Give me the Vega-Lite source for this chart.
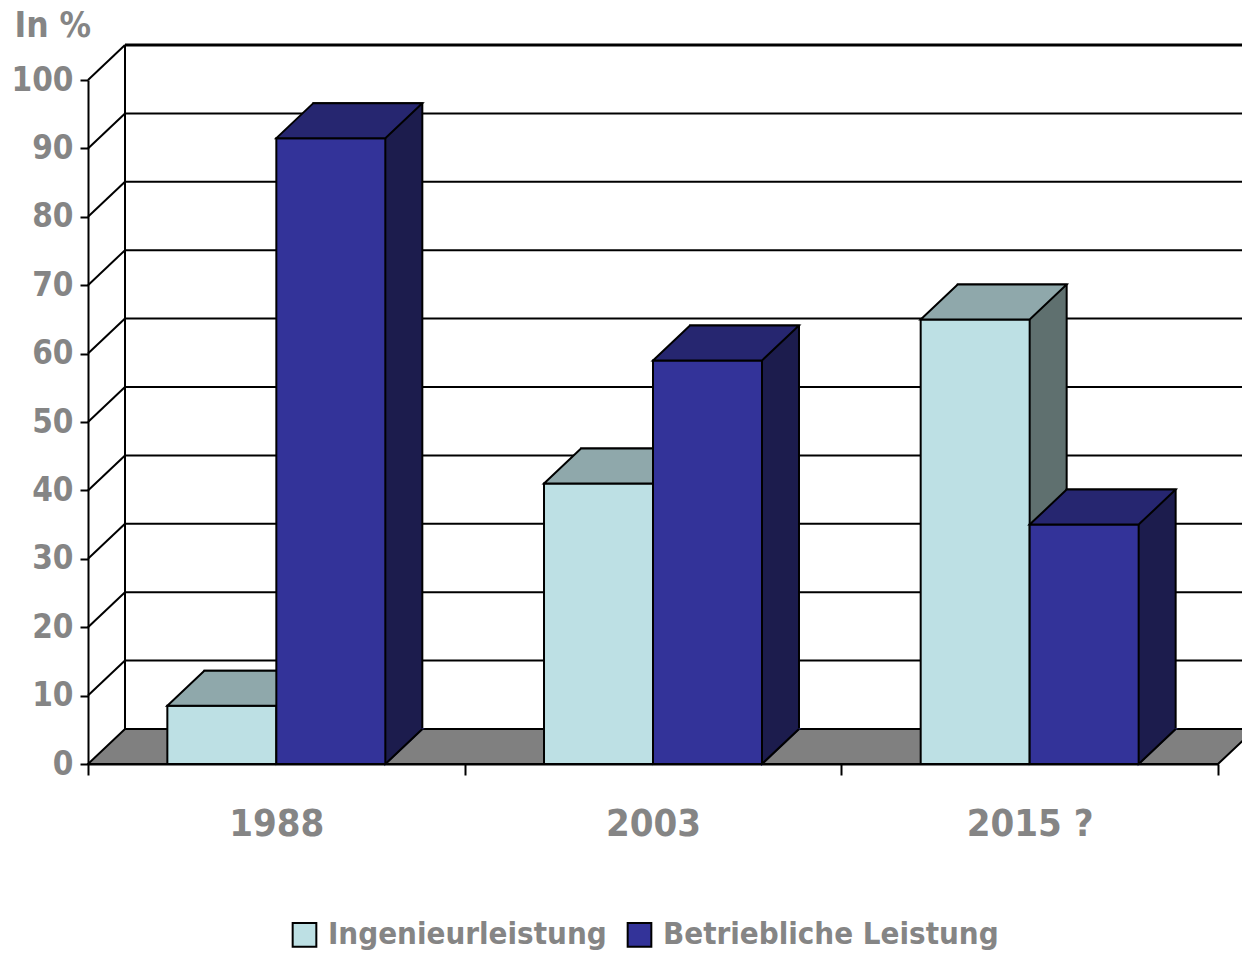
{
  "$schema": "https://vega.github.io/schema/vega-lite/v6.json",
  "width": 1130,
  "height": 684,
  "autosize": {"type": "none"},
  "padding": {"left": 88, "top": 80, "right": 24, "bottom": 195},
  "background": "white",
  "config": {
    "view": {"stroke": null},
    "font": "DejaVu Sans Condensed, DejaVu Sans, sans-serif"
  },
  "datasets": {
    "bars": [
      {"year": "1988", "series": "Ingenieurleistung", "value": 8.5},
      {"year": "1988", "series": "Betriebliche Leistung", "value": 91.5},
      {"year": "2003", "series": "Ingenieurleistung", "value": 41},
      {"year": "2003", "series": "Betriebliche Leistung", "value": 59},
      {"year": "2015 ?", "series": "Ingenieurleistung", "value": 65},
      {"year": "2015 ?", "series": "Betriebliche Leistung", "value": 35}
    ],
    "grid": [
      {"g": 0}, {"g": 10}, {"g": 20}, {"g": 30}, {"g": 40}, {"g": 50},
      {"g": 60}, {"g": 70}, {"g": 80}, {"g": 90}, {"g": 100}
    ]
  },
  "layer": [
    {
      "data": {"name": "grid"},
      "layer": [
        {
          "mark": {"type": "rule", "color": "black", "strokeWidth": 2},
          "encoding": {
            "y": {"field": "g", "type": "quantitative", "scale": {"domain": [0, 100], "range": [649, -35], "nice": false, "zero": false}, "axis": null},
            "x": {"datum": 0, "type": "quantitative", "scale": {"domain": [0, 1], "range": [37, 1167], "nice": false, "zero": false}, "axis": null},
            "x2": {"datum": 1}
          }
        },
        {
          "transform": [{"filter": "datum.g == 100"}],
          "mark": {"type": "rule", "color": "black", "strokeWidth": 3},
          "encoding": {
            "y": {"field": "g", "type": "quantitative"},
            "x": {"datum": 0, "type": "quantitative"},
            "x2": {"datum": 1}
          }
        },
        {
          "transform": [{"filter": "datum.g == 100"}],
          "mark": {"type": "rule", "color": "black", "strokeWidth": 2},
          "encoding": {
            "x": {"datum": 0, "type": "quantitative"},
            "y": {"datum": 0, "type": "quantitative"},
            "y2": {"datum": 100}
          }
        },
        {
          "transform": [{"filter": "datum.g > 0"}],
          "mark": {"type": "point", "shape": "M0,0L-0.37,0.35", "size": 40000, "filled": false, "stroke": "black", "strokeWidth": 2, "opacity": 1},
          "encoding": {
            "x": {"datum": 0, "type": "quantitative"},
            "y": {"field": "g", "type": "quantitative"}
          }
        },
        {
          "transform": [{"filter": "datum.g == 0"}],
          "mark": {"type": "point", "shape": "M0,0L11.3,0L10.93,0.35L-0.37,0.35Z", "size": 40000, "filled": true, "fill": "#808080", "stroke": "black", "strokeWidth": 2, "opacity": 1},
          "encoding": {
            "x": {"datum": 0, "type": "quantitative"},
            "y": {"field": "g", "type": "quantitative"}
          }
        }
      ]
    },
    {
      "data": {"name": "bars"},
      "mark": {"type": "bar", "stroke": "black", "strokeWidth": 2},
      "encoding": {
        "x": {
          "field": "year", "type": "nominal", "sort": null,
          "scale": {"domain": ["1988", "2003", "2015 ?"], "range": [37, 1167], "paddingInner": 0, "paddingOuter": 0},
          "axis": null
        },
        "xOffset": {"field": "series", "type": "nominal", "sort": ["Ingenieurleistung", "Betriebliche Leistung"], "scale": {"domain": ["Ingenieurleistung", "Betriebliche Leistung"], "paddingInner": 0, "paddingOuter": 0.728}},
        "y": {"field": "value", "type": "quantitative", "scale": {"domain": [0, 100], "range": [649, -35], "nice": false}, "axis": null},
        "fill": {"condition": {"test": "datum.series === 'Ingenieurleistung'", "value": "#5F706F"}, "value": "#1C1C4D"}
      }
    },
    {
      "data": {"name": "bars"},
      "layer": [
        {
          "mark": {"type": "point", "shape": "M0.545,0L0.545,-0.35L0.915,-0.35Z", "size": 40000, "filled": true, "strokeWidth": 2, "opacity": 1},
          "encoding": {
            "x": {
              "field": "year", "type": "nominal", "sort": null,
              "scale": {"domain": ["1988", "2003", "2015 ?"], "paddingInner": 0, "paddingOuter": 0},
              "axis": {
                "orient": "bottom",
                "title": null, "labelAngle": 0, "tickBand": "extent",
                "domainColor": "black", "domainWidth": 2,
                "tickColor": "black", "tickWidth": 2, "tickSize": 11,
                "labelFontSize": 38, "labelFontWeight": "bold", "labelColor": "#858585",
                "labelPadding": 30, "grid": false
              }
            },
            "xOffset": {"field": "series", "type": "nominal", "sort": ["Ingenieurleistung", "Betriebliche Leistung"], "scale": {"domain": ["Ingenieurleistung", "Betriebliche Leistung"], "paddingInner": 0, "paddingOuter": 0.728}},
            "y": {
              "datum": 0, "type": "quantitative",
              "scale": {"domain": [0, 100], "nice": false},
              "axis": {
                "orient": "left",
                "title": "In %", "titleAngle": 0, "titleAlign": "left", "titleBaseline": "alphabetic",
                "titleX": -74, "titleY": -44, "titleFontSize": 35, "titleFontWeight": "bold", "titleColor": "#858585",
                "values": [0, 10, 20, 30, 40, 50, 60, 70, 80, 90, 100],
                "domainColor": "black", "domainWidth": 2,
                "tickColor": "black", "tickWidth": 2, "tickSize": 8,
                "labelFontSize": 33, "labelFontWeight": "bold", "labelColor": "#858585",
                "labelPadding": 7, "grid": false
              }
            },
            "fill": {"condition": {"test": "datum.series === 'Ingenieurleistung'", "value": "#5F706F"}, "value": "#1C1C4D"},
            "stroke": {"condition": {"test": "datum.series === 'Ingenieurleistung'", "value": "#5F706F"}, "value": "#1C1C4D"}
          }
        },
        {
          "mark": {"type": "point", "shape": "M0.545,0L0.915,-0.35", "size": 40000, "filled": false, "stroke": "black", "strokeWidth": 2, "opacity": 1},
          "encoding": {
            "x": {"field": "year", "type": "nominal", "sort": null},
            "xOffset": {"field": "series", "type": "nominal", "sort": ["Ingenieurleistung", "Betriebliche Leistung"]},
            "y": {"datum": 0, "type": "quantitative"}
          }
        },
        {
          "transform": [{"filter": "datum.series === 'Ingenieurleistung'"}],
          "mark": {"type": "bar", "stroke": "black", "strokeWidth": 2},
          "encoding": {
            "x": {"field": "year", "type": "nominal", "sort": null},
            "xOffset": {"field": "series", "type": "nominal", "sort": ["Ingenieurleistung", "Betriebliche Leistung"]},
            "y": {"field": "value", "type": "quantitative"},
            "color": {
              "field": "series", "type": "nominal",
              "scale": {"domain": ["Ingenieurleistung", "Betriebliche Leistung"], "range": ["#BDE0E4", "#333399"]},
              "legend": {
                "title": null, "orient": "none", "direction": "horizontal",
                "legendX": 201, "legendY": 839, "padding": 0,
                "symbolType": "square", "symbolSize": 560, "symbolStrokeColor": "black", "symbolStrokeWidth": 2, "symbolOpacity": 1,
                "labelFontSize": 31, "labelFontWeight": "bold", "labelColor": "#858585",
                "labelOffset": 8, "columnPadding": 16, "labelLimit": 500
              }
            }
          }
        },
        {
          "transform": [{"filter": "datum.series === 'Ingenieurleistung'"}],
          "mark": {"type": "point", "shape": "M-0.545,0L0.545,0L0.915,-0.35L-0.175,-0.35Z", "size": 40000, "filled": true, "fill": "#8FA8AB", "stroke": "black", "strokeWidth": 2, "opacity": 1},
          "encoding": {
            "x": {"field": "year", "type": "nominal", "sort": null},
            "xOffset": {"field": "series", "type": "nominal", "sort": ["Ingenieurleistung", "Betriebliche Leistung"]},
            "y": {"field": "value", "type": "quantitative"}
          }
        },
        {
          "transform": [{"filter": "datum.series === 'Betriebliche Leistung'"}],
          "mark": {"type": "bar", "stroke": "black", "strokeWidth": 2},
          "encoding": {
            "x": {"field": "year", "type": "nominal", "sort": null},
            "xOffset": {"field": "series", "type": "nominal", "sort": ["Ingenieurleistung", "Betriebliche Leistung"]},
            "y": {"field": "value", "type": "quantitative"},
            "color": {"field": "series", "type": "nominal"}
          }
        },
        {
          "transform": [{"filter": "datum.series === 'Betriebliche Leistung'"}],
          "mark": {"type": "point", "shape": "M-0.545,0L0.545,0L0.915,-0.35L-0.175,-0.35Z", "size": 40000, "filled": true, "fill": "#262670", "stroke": "black", "strokeWidth": 2, "opacity": 1},
          "encoding": {
            "x": {"field": "year", "type": "nominal", "sort": null},
            "xOffset": {"field": "series", "type": "nominal", "sort": ["Ingenieurleistung", "Betriebliche Leistung"]},
            "y": {"field": "value", "type": "quantitative"}
          }
        }
      ]
    }
  ],
  "resolve": {"scale": {"x": "independent", "y": "independent", "xOffset": "independent"}}
}
